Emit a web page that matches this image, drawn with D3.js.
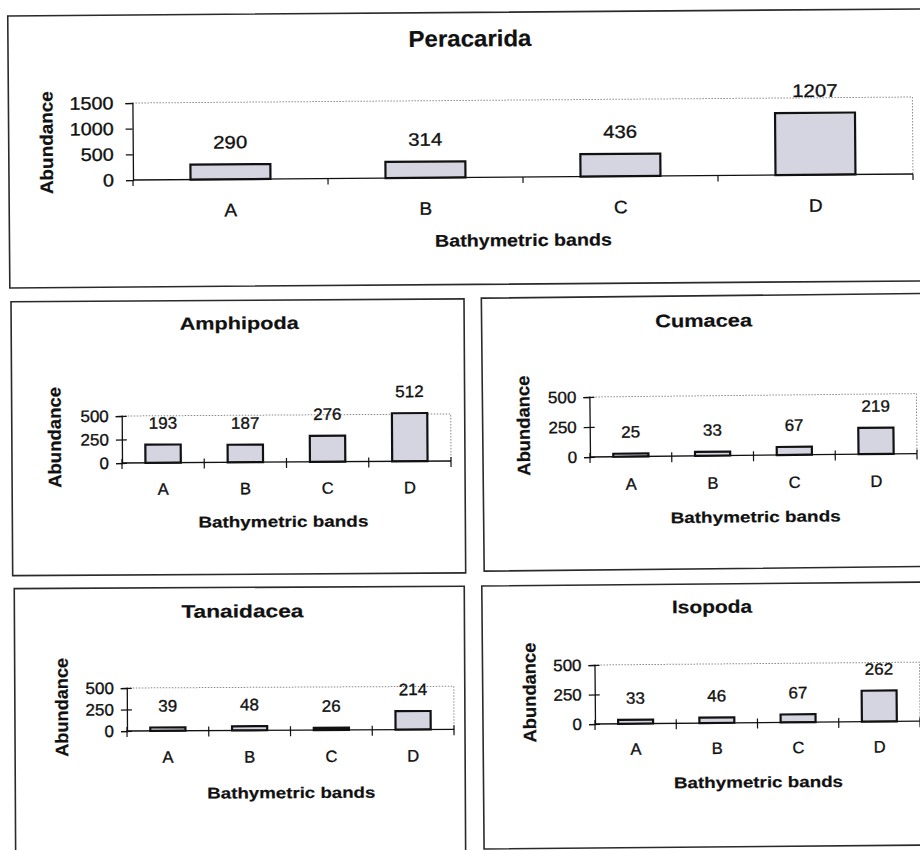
<!DOCTYPE html>
<html>
<head>
<meta charset="utf-8">
<script src="https://cdn.jsdelivr.net/npm/d3@7"></script>
<style>
  html, body { margin: 0; padding: 0; background: #fff; }
  svg { display: block; font-family: "Liberation Sans", Arial, sans-serif; }
</style>
</head>
<body>
<svg id="chart" width="920" height="850"></svg>
<script>
// ---------- data ----------
const categories = ["A", "B", "C", "D"];
const peracarida = [290, 314, 436, 1207];
const amphipoda  = [193, 187, 276, 512];
const cumacea    = [25, 33, 67, 219];
const tanaidacea = [39, 48, 26, 214];
const isopoda    = [33, 46, 67, 262];
const ticksMain  = [0, 500, 1000, 1500];
const ticksSmall = [0, 250, 500];
const xTitle = "Bathymetric bands";
const yTitle = "Abundance";

// ---------- layout (positions only) ----------
const panels = [
  { title: "Peracarida", values: peracarida, ticks: ticksMain, main: true, tilt: -0.44,
    box: [9, 15, 930, 287], x0: 133, x1: 913, yZero: 180, yTop: 103,
    titleX: 471, titleY: 49, titleLen: 123, titleSize: 23,
    yTitleX: 47, yTitleY: 142, yTitleLen: 103, yTitleSize: 18,
    catY: 217, xTitleX: 523, xTitleY: 249, xTitleLen: 177, xTitleSize: 17 },
  { title: "Amphipoda", values: amphipoda, ticks: ticksSmall, tilt: -0.35,
    box: [12, 301, 465, 575], x0: 122, x1: 451, yZero: 463, yTop: 416,
    titleX: 240, titleY: 330, titleLen: 119, titleSize: 17.5,
    yTitleX: 55, yTitleY: 437, yTitleLen: 101, yTitleSize: 18,
    catY: 495, xTitleX: 283, xTitleY: 528, xTitleLen: 170, xTitleSize: 15.5 },
  { title: "Cumacea", values: cumacea, ticks: ticksSmall, tilt: -0.6,
    box: [483, 297, 930, 570], x0: 590, x1: 917, yZero: 457, yTop: 397,
    titleX: 705, titleY: 328, titleLen: 97, titleSize: 18,
    yTitleX: 524, yTitleY: 425, yTitleLen: 100, yTitleSize: 18,
    catY: 490, xTitleX: 755, xTitleY: 524, xTitleLen: 170, xTitleSize: 15.5 },
  { title: "Tanaidacea", values: tanaidacea, ticks: ticksSmall, tilt: -0.3,
    box: [15, 588, 465, 870], x0: 127, x1: 454, yZero: 731, yTop: 688,
    titleX: 243, titleY: 618, titleLen: 122, titleSize: 18,
    yTitleX: 62, yTitleY: 707, yTitleLen: 99, yTitleSize: 18,
    catY: 763, xTitleX: 291, xTitleY: 799, xTitleLen: 168, xTitleSize: 15.5 },
  { title: "Isopoda", values: isopoda, ticks: ticksSmall, tilt: -0.5,
    box: [483, 585, 930, 848], x0: 595, x1: 920, yZero: 724, yTop: 665,
    titleX: 713, titleY: 614, titleLen: 80, titleSize: 18,
    yTitleX: 530, yTitleY: 692, yTitleLen: 100, yTitleSize: 18,
    catY: 755, xTitleX: 758, xTitleY: 789, xTitleLen: 169, xTitleSize: 15.5 }
];

const svg = d3.select("#chart");
const BAR_FILL = "#d5d5e1";

function txt(g, str, x, y, o) {
  let tr = `translate(${x},${y})`;
  if (o.rot) tr += " rotate(-90)";
  if (o.sx) tr += ` scale(${o.sx},1)`;
  const t = g.append("text")
    .attr("transform", tr)
    .attr("text-anchor", o.anchor || "middle")
    .attr("font-size", o.size)
    .attr("font-weight", o.bold ? "bold" : "normal")
    .attr("fill", "#111")
    .attr("stroke", "#111").attr("stroke-width", o.bold ? 0.2 : 0.35)
    .text(str);
  if (o.len) t.attr("textLength", o.len).attr("lengthAdjust", "spacingAndGlyphs");
  return t;
}

panels.forEach(p => {
  const g = svg.append("g")
    .attr("transform", `rotate(${p.tilt},${p.x0},${p.yZero})`);
  const [bx0, by0, bx1, by1] = p.box;
  g.append("rect")
    .attr("x", bx0).attr("y", by0)
    .attr("width", bx1 - bx0).attr("height", by1 - by0)
    .attr("fill", "none").attr("stroke", "#2a2a2a").attr("stroke-width", 1.6);

  const maxTick = d3.max(p.ticks);
  const y = d3.scaleLinear().domain([0, maxTick]).range([p.yZero, p.yTop]);
  const x = d3.scaleBand().domain(categories).range([p.x0, p.x1])
    .paddingInner(p.main ? 0.59 : 0.57).paddingOuter(p.main ? 0.295 : 0.285);

  // plot-area frame (dotted top and right)
  g.append("path")
    .attr("d", `M${p.x0},${y(maxTick)}H${p.x1}V${p.yZero}`)
    .attr("fill", "none").attr("stroke", "#8a8a8a")
    .attr("stroke-width", 1).attr("stroke-dasharray", "1.5,1.5");

  // bars
  g.selectAll("rect.bar").data(p.values).join("rect")
    .attr("class", "bar")
    .attr("x", (d, i) => x(categories[i]))
    .attr("y", d => y(d))
    .attr("width", x.bandwidth())
    .attr("height", d => p.yZero - y(d))
    .attr("fill", BAR_FILL).attr("stroke", "#111").attr("stroke-width", 2.2);

  // value labels
  p.values.forEach((v, i) => {
    txt(g, String(v), x(categories[i]) + x.bandwidth() / 2, y(v) - 16,
      { size: p.main ? 18 : 16.5, sx: p.main ? 1.13 : 1.03 });
  });

  // y axis
  const ya = d3.axisLeft(y).tickValues(p.ticks).tickSizeOuter(0)
    .tickSize(p.main ? 7 : 6).tickPadding(p.main ? 12 : 8).tickFormat(d3.format("d"));
  const yg = g.append("g").attr("transform", `translate(${p.x0},0)`).call(ya);
  yg.select(".domain").attr("stroke", "#111").attr("stroke-width", 1.3);
  yg.selectAll(".tick line").attr("stroke", "#111").attr("stroke-width", 1.2)
    .attr("x2", -(p.main ? 7 : 6)).attr("x1", p.main ? 0 : 5);
  yg.selectAll(".tick text").attr("font-size", p.main ? 18 : 16.5)
    .attr("fill", "#111").attr("stroke", "#111").attr("stroke-width", 0.35)
    .attr("font-family", "Liberation Sans, Arial, sans-serif")
    .attr("transform", p.main ? "scale(1.1,1)" : "scale(1.03,1)")
    .attr("x", p.main ? -(19 / 1.1) : -(13 / 1.03));

  // x axis line
  g.append("line").attr("x1", p.x0).attr("x2", p.x1)
    .attr("y1", p.yZero).attr("y2", p.yZero)
    .attr("stroke", "#111").attr("stroke-width", 1.3);
  // band boundary ticks
  const bounds = categories.map(c => x(c) - x.step() * x.paddingOuter()).concat([p.x1]);
  g.selectAll("line.btick").data(bounds).join("line")
    .attr("class", "btick")
    .attr("x1", d => d).attr("x2", d => d)
    .attr("y1", p.main ? p.yZero : p.yZero - 4)
    .attr("y2", p.yZero + 6)
    .attr("stroke", "#111").attr("stroke-width", 1.2);

  // category labels
  categories.forEach(c => {
    txt(g, c, x(c) + x.bandwidth() / 2, p.catY, { size: p.main ? 18 : 16.5, sx: p.main ? 1.05 : 1 });
  });

  // titles
  txt(g, p.title, p.titleX, p.titleY, { size: p.titleSize, bold: true, len: p.titleLen });
  txt(g, xTitle, p.xTitleX, p.xTitleY, { size: p.xTitleSize, bold: true, len: p.xTitleLen });
  txt(g, yTitle, p.yTitleX + 6, p.yTitleY,
    { size: p.yTitleSize, bold: true, rot: true, len: p.yTitleLen });
});
</script>
</body>
</html>
